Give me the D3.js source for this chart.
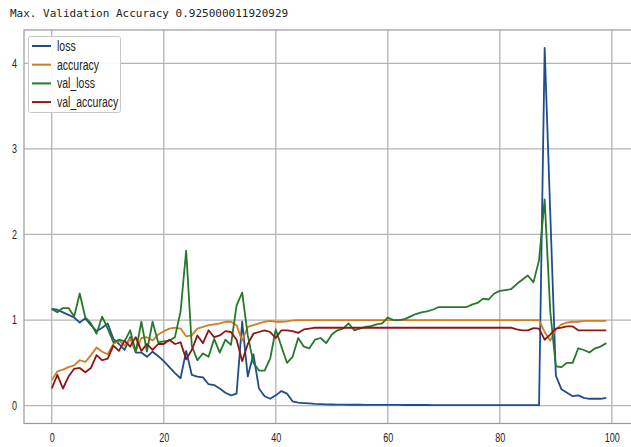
<!DOCTYPE html>
<html>
<head>
<meta charset="utf-8">
<script src="https://d3js.org/d3.v7.min.js"></script>
<style>
  body { margin: 0; background: #fff; }
  .title { font: 11px "DejaVu Sans Mono", monospace; fill: #222; }
  .tick text { font: 12px "Liberation Sans", Arial, sans-serif; fill: #222; }
  .legend text { font: 14px "Liberation Sans", Arial, sans-serif; fill: #222; }
</style>
</head>
<body>
<svg id="chart" width="631" height="447"></svg>
<script>
// training history, one value per epoch
var epochs = d3.range(100);

var loss = [1.13,1.12,1.09,1.06,1.03,0.97,1.02,0.94,0.87,0.91,
  0.96,0.78,0.72,0.65,0.80,0.62,0.62,0.57,0.63,0.58,
  0.52,0.45,0.38,0.32,0.64,0.36,0.34,0.33,0.25,0.24,
  0.20,0.15,0.12,0.14,0.98,0.34,0.60,0.20,0.11,0.08,
  0.12,0.17,0.14,0.05,0.035,0.03,0.025,0.02,0.018,0.015,
  0.013,0.012,0.011,0.01,0.01,0.01,0.009,0.009,0.009,0.008,
  0.008,0.008,0.008,0.007,0.007,0.007,0.007,0.007,0.006,0.006,
  0.006,0.006,0.006,0.006,0.006,0.005,0.005,0.005,0.005,0.005,
  0.005,0.005,0.005,0.005,0.005,0.005,0.005,0.005,4.18,2.25,
  0.35,0.19,0.15,0.11,0.12,0.09,0.08,0.08,0.08,0.09];

var accuracy = [0.30,0.40,0.42,0.45,0.47,0.53,0.51,0.59,0.68,0.63,
  0.60,0.72,0.76,0.70,0.78,0.64,0.79,0.80,0.76,0.83,
  0.87,0.90,0.91,0.90,0.81,0.82,0.90,0.92,0.94,0.95,
  0.96,0.98,0.98,0.94,0.76,0.92,0.94,0.96,0.98,0.99,
  0.98,0.98,0.985,0.995,1.0,1.0,1.0,1.0,1.0,1.0,
  1.0,1.0,1.0,1.0,1.0,1.0,1.0,1.0,1.0,1.0,
  1.0,1.0,1.0,1.0,1.0,1.0,1.0,1.0,1.0,1.0,
  1.0,1.0,1.0,1.0,1.0,1.0,1.0,1.0,1.0,1.0,
  1.0,1.0,1.0,1.0,1.0,1.0,1.0,1.0,0.86,0.76,
  0.89,0.95,0.97,0.98,0.98,0.99,0.99,0.99,0.99,0.99];

var val_loss = [1.13,1.09,1.14,1.14,1.04,1.31,1.03,0.96,0.84,1.04,
  0.90,0.74,0.77,0.75,0.88,0.63,0.98,0.63,0.98,0.74,
  0.75,0.76,0.80,1.10,1.81,0.70,0.53,0.61,0.57,0.78,
  0.62,0.77,0.71,1.17,1.32,0.82,0.50,0.41,0.41,0.55,
  0.89,0.69,0.50,0.57,0.79,0.69,0.67,0.77,0.79,0.73,
  0.83,0.88,0.90,0.96,0.88,0.90,0.92,0.93,0.95,0.96,
  1.03,1.00,1.00,1.01,1.04,1.07,1.09,1.10,1.12,1.15,
  1.15,1.15,1.15,1.15,1.15,1.18,1.20,1.25,1.24,1.31,
  1.34,1.35,1.36,1.42,1.47,1.52,1.44,1.70,2.41,1.10,
  0.46,0.45,0.50,0.50,0.67,0.65,0.62,0.67,0.69,0.73];

var val_accuracy = [0.20,0.36,0.20,0.34,0.43,0.44,0.39,0.44,0.59,0.53,
  0.55,0.70,0.64,0.76,0.69,0.80,0.64,0.72,0.65,0.72,
  0.72,0.77,0.72,0.74,0.54,0.65,0.82,0.73,0.88,0.80,
  0.82,0.87,0.86,0.77,0.52,0.72,0.84,0.86,0.88,0.86,
  0.79,0.88,0.88,0.87,0.85,0.89,0.90,0.91,0.91,0.91,
  0.91,0.91,0.91,0.91,0.91,0.91,0.91,0.91,0.91,0.91,
  0.91,0.91,0.91,0.91,0.91,0.91,0.91,0.91,0.91,0.91,
  0.91,0.91,0.91,0.91,0.91,0.91,0.91,0.91,0.91,0.91,
  0.91,0.91,0.91,0.89,0.88,0.88,0.905,0.90,0.77,0.83,
  0.90,0.91,0.925,0.925,0.88,0.88,0.88,0.88,0.88,0.88];

var seriesNames = ["loss", "accuracy", "val_loss", "val_accuracy"];
var seriesValues = [loss, accuracy, val_loss, val_accuracy];
var colors = ["#1f4e8e", "#d17d22", "#26782a", "#8c1717"];

var xTicks = [0, 20, 40, 60, 80, 100];
var yTicks = [0, 1, 2, 3, 4];

var plot = {left: 24, top: 30, right: 634, bottom: 423.5};
var squeeze = 0.75; // text in the picture is horizontally narrow

var svg = d3.select("#chart");

var maxVal = d3.max(seriesValues, s => d3.max(s));
var yPad = maxVal * 0.05;
var x = d3.scaleLinear().domain([-4.95, 103.95]).range([plot.left, plot.right]);
var y = d3.scaleLinear().domain([-yPad, maxVal + yPad]).range([plot.bottom, plot.top]);

svg.append("text")
    .attr("class", "title")
    .attr("x", 10)
    .attr("y", 17)
    .text("Max. Validation Accuracy " + "0.925000011920929");

// grid
svg.append("g").selectAll("line").data(xTicks).enter().append("line")
    .attr("x1", d => x(d)).attr("x2", d => x(d))
    .attr("y1", plot.top).attr("y2", plot.bottom)
    .attr("stroke", "#b4b4b4").attr("stroke-width", 1.3);
svg.append("g").selectAll("line").data(yTicks).enter().append("line")
    .attr("x1", plot.left).attr("x2", plot.right)
    .attr("y1", d => y(d)).attr("y2", d => y(d))
    .attr("stroke", "#b4b4b4").attr("stroke-width", 1.3);

// axes (labels only, no tick marks)
var xAxis = svg.append("g")
    .attr("transform", "translate(0," + plot.bottom + ")")
    .call(d3.axisBottom(x).tickValues(xTicks).tickFormat(d3.format("d")).tickSize(0).tickPadding(10));
var yAxis = svg.append("g")
    .attr("transform", "translate(" + plot.left + ",0)")
    .call(d3.axisLeft(y).tickValues(yTicks).tickFormat(d3.format("d")).tickSize(0).tickPadding(7));
[xAxis, yAxis].forEach(a => {
  a.select(".domain").remove();
  a.selectAll(".tick line").remove();
});
xAxis.selectAll(".tick text")
    .attr("transform", "scale(" + squeeze + ",1)");
yAxis.selectAll(".tick text")
    .attr("transform", "scale(" + squeeze + ",1)")
    .attr("x", -7 / squeeze);

svg.append("rect")
    .attr("x", plot.left).attr("y", plot.top)
    .attr("width", plot.right - plot.left).attr("height", plot.bottom - plot.top)
    .attr("fill", "none").attr("stroke", "#999").attr("stroke-width", 1.2);

// series lines
var line = d3.line().x((d, i) => x(epochs[i])).y(d => y(d));
seriesValues.forEach((vals, k) => {
  svg.append("path")
      .datum(vals)
      .attr("d", line)
      .attr("fill", "none")
      .attr("stroke", colors[k])
      .attr("stroke-width", 1.8)
      .attr("stroke-linejoin", "round");
});

// legend
var legend = svg.append("g").attr("class", "legend");
legend.append("rect")
    .attr("x", 28.5).attr("y", 36.5).attr("width", 92).attr("height", 76)
    .attr("rx", 2).attr("fill", "#fff").attr("fill-opacity", 0.9)
    .attr("stroke", "#c8c8c8");
seriesNames.forEach((name, k) => {
  var ly = 46 + k * 18.7;
  legend.append("line")
      .attr("x1", 32).attr("x2", 51).attr("y1", ly).attr("y2", ly)
      .attr("stroke", colors[k]).attr("stroke-width", 2);
  legend.append("text")
      .attr("transform", "translate(57," + ly + ") scale(" + squeeze + ",1)")
      .attr("dy", "0.35em")
      .text(name);
});
</script>
</body>
</html>
